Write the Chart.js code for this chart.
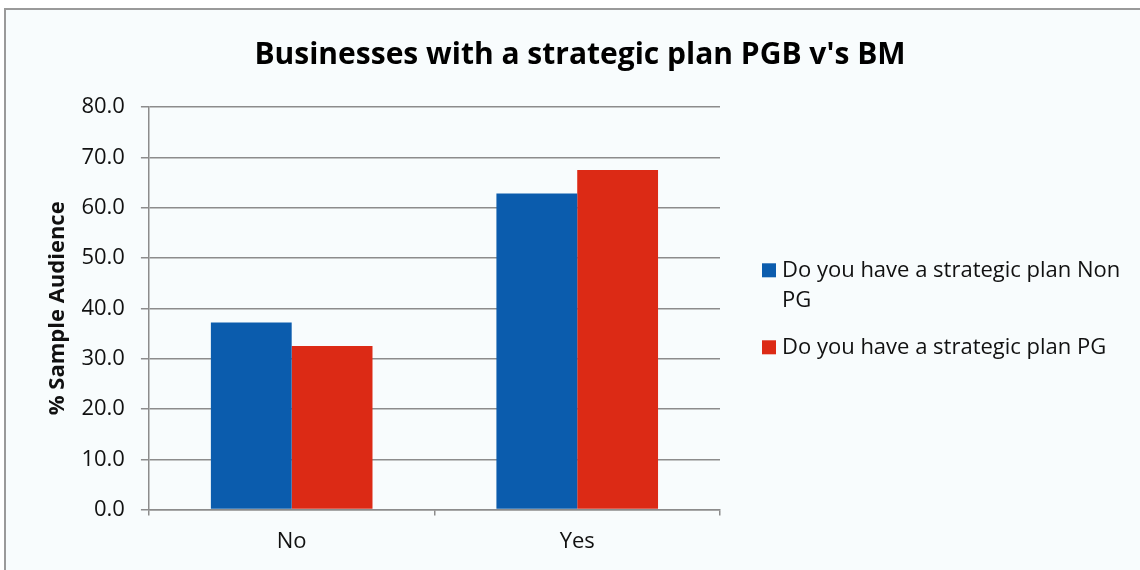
<!DOCTYPE html>
<html>
<head>
<meta charset="utf-8">
<script src="https://cdn.jsdelivr.net/npm/chart.js@4.4.1/dist/chart.umd.min.js"></script>
<style>
  html, body { margin: 0; padding: 0; background: #ffffff; overflow: hidden; }
  .frame {
    position: absolute; left: 4px; top: 8px;
    width: 1150px; height: 570px;
    border: 2px solid #9a9a9a; background: #f8fcfd;
  }
  .frame canvas { display: block; }
</style>
</head>
<body>
<div class="frame"><canvas id="planChart" width="1136" height="562"></canvas></div>
<script>
const chartTitle = "Businesses with a strategic plan PGB v's BM";
const categories = ['No', 'Yes'];
const nonPgValues = [37.2, 62.8];
const pgValues = [32.5, 67.5];
const seriesLabels = [['Do you have a strategic plan Non', 'PG'], ['Do you have a strategic plan PG']];
const seriesColors = ['#0b5cad', '#dc2a15'];
const yTicks = [0, 10, 20, 30, 40, 50, 60, 70, 80];

const fontFamily = "'Open Sans', 'Liberation Sans', sans-serif";
const gridColor = '#8c8c8c';

// title across the whole canvas (the built-in one is squeezed by the right padding)
const wideTitle = {
  id: 'wideTitle',
  afterDraw(chart) {
    const c = chart.ctx;
    c.save();
    c.font = 'bold 30px ' + fontFamily;
    c.fillStyle = '#000';
    c.textAlign = 'center';
    c.textBaseline = 'middle';
    c.fillText(chartTitle, chart.width / 2 + 6, 45);
    c.restore();
  }
};

// legend on the right, with wrapped lines, drawn next to the plot area
const sideLegend = {
  id: 'sideLegend',
  afterDraw(chart) {
    const c = chart.ctx;
    const area = chart.chartArea;
    const lineH = 30;
    const gap = 17;
    const x = area.right + 42;
    let y = (area.top + area.bottom) / 2 - 38;
    c.save();
    c.font = '22px ' + fontFamily;
    c.textBaseline = 'middle';
    chart.data.datasets.forEach((ds) => {
      c.fillStyle = ds.backgroundColor;
      c.fillRect(x, y - 7, 14, 14);
      c.fillStyle = '#111';
      ds.label.forEach((line, j) => {
        c.fillText(line, x + 20, y + j * lineH);
      });
      y += ds.label.length * lineH + gap;
    });
    c.restore();
  }
};

const ctx = document.getElementById('planChart').getContext('2d');
const planChart = new Chart(ctx, {
  type: 'bar',
  data: {
    labels: categories,
    datasets: [
      {
        label: seriesLabels[0],
        data: nonPgValues,
        backgroundColor: seriesColors[0],
        categoryPercentage: 0.566,
        barPercentage: 1
      },
      {
        label: seriesLabels[1],
        data: pgValues,
        backgroundColor: seriesColors[1],
        categoryPercentage: 0.566,
        barPercentage: 1
      }
    ]
  },
  options: {
    responsive: false,
    animation: false,
    layout: { padding: { left: 27, right: 422, top: 97, bottom: 4 } },
    scales: {
      x: {
        offset: true,
        grid: {
          offset: true,
          drawOnChartArea: false,
          drawTicks: true,
          tickLength: 6,
          color: gridColor,
          lineWidth: 1.5
        },
        border: { color: gridColor, width: 1.5 },
        ticks: { color: '#111', font: { family: fontFamily, size: 22 }, padding: 13 }
      },
      y: {
        min: 0,
        max: 80,
        afterBuildTicks: function (axis) {
          axis.ticks = yTicks.map(v => ({ value: v }));
        },
        grid: { color: gridColor, lineWidth: 1.5, tickLength: 8 },
        border: { color: gridColor, width: 1.5 },
        ticks: {
          color: '#111',
          font: { family: fontFamily, size: 22 },
          padding: 16,
          callback: function (value) { return value.toFixed(1); }
        },
        title: {
          display: true,
          text: '% Sample Audience',
          color: '#111',
          font: { family: fontFamily, size: 22, weight: 'bold' },
          padding: { top: 12, bottom: -6 }
        }
      }
    },
    plugins: {
      title: { display: false },
      legend: { display: false },
      tooltip: { enabled: false }
    }
  },
  plugins: [wideTitle, sideLegend]
});
</script>
</body>
</html>
